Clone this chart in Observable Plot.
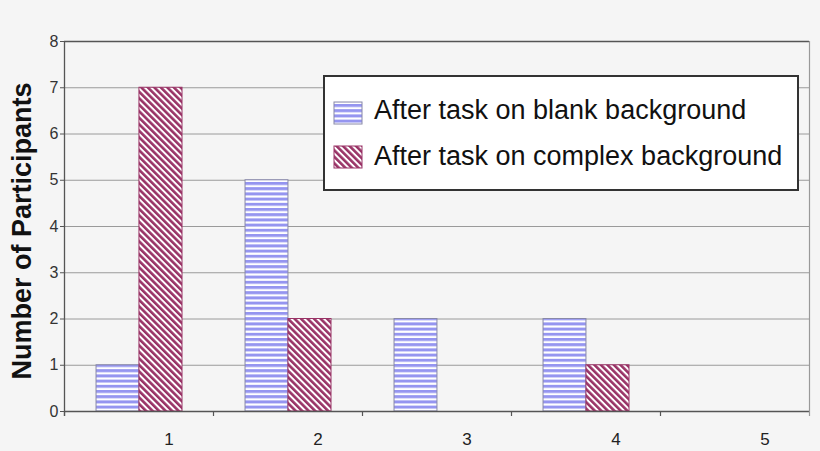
<!DOCTYPE html>
<html>
<head>
<meta charset="utf-8">
<script src="https://cdn.jsdelivr.net/npm/d3@7"></script>
<script src="https://cdn.jsdelivr.net/npm/@observablehq/plot@0.6"></script>
<style>
  html, body { margin: 0; padding: 0; background: #f5f5f5; }
  #wrap { position: relative; width: 820px; height: 451px; overflow: hidden; background: #f5f5f5; }
  #chart { position: absolute; left: 0; top: 0; }
  #legend { position: absolute; left: 0; top: 0; }
</style>
</head>
<body>
<div id="wrap">
  <svg width="0" height="0" style="position:absolute">
    <defs>
      <pattern id="pBlank" patternUnits="userSpaceOnUse" width="10" height="5.2">
        <rect width="10" height="5.2" fill="#ffffff"></rect>
        <rect width="10" height="3" fill="#9595f0"></rect>
      </pattern>
      <pattern id="pComplex" patternUnits="userSpaceOnUse" width="4.6" height="10" patternTransform="rotate(-45)">
        <rect width="4.6" height="10" fill="#ffffff"></rect>
        <rect width="2.6" height="10" fill="#993366"></rect>
      </pattern>
    </defs>
  </svg>
  <div id="chart"></div>
  <div id="legend"></div>
</div>
<script>
// ---- data ----
const categories = ["1", "2", "3", "4", "5"];
const blankValues = [1, 5, 2, 2, 0];
const complexValues = [7, 2, 0, 1, 0];
const yTicks = [0, 1, 2, 3, 4, 5, 6, 7, 8];
const seriesNames = ["After task on blank background", "After task on complex background"];
const yLabel = "Number of Participants";

const blankRows = categories.map((c, i) => ({cat: c, value: blankValues[i]})).filter(d => d.value > 0);
const complexRows = categories.map((c, i) => ({cat: c, value: complexValues[i]})).filter(d => d.value > 0);

// ---- layout ----
const W = 820, H = 451;
const mL = 64, mR = 11, mT = 41, mB = 40;
const bw = (W - mL - mR) / categories.length;
const plotH = H - mT - mB;

const chart = Plot.plot({
  width: W,
  height: H,
  marginLeft: mL,
  marginRight: mR,
  marginTop: mT,
  marginBottom: mB,
  style: {background: "#f5f5f5", fontFamily: "'Liberation Sans', Arial, sans-serif"},
  x: {domain: categories, padding: 0},
  y: {domain: [0, 8]},
  marks: [
    Plot.ruleY(yTicks.filter(v => v > 0 && v < 8), {stroke: "#9a9a9a", strokeWidth: 1, strokeOpacity: 1}),
    Plot.barY(blankRows, {x: "cat", y: "value", fill: "url(#pBlank)", stroke: "#8888a8", strokeWidth: 1,
      insetLeft: 0.215 * bw, insetRight: 0.497 * bw}),
    Plot.barY(complexRows, {x: "cat", y: "value", fill: "url(#pComplex)", stroke: "#993366", strokeWidth: 1,
      insetLeft: 0.503 * bw, insetRight: 0.208 * bw}),
    Plot.ruleY([0], {stroke: "#555", strokeWidth: 1.3}),
    Plot.ruleY([8], {stroke: "#555", strokeWidth: 1.3}),
    Plot.tickX(categories, {x: d => d, dx: -bw / 2, insetTop: plotH, insetBottom: -5, stroke: "#555", strokeWidth: 1.2}),
    Plot.tickX([categories[categories.length - 1]], {x: d => d, dx: bw / 2, insetBottom: -5, stroke: "#999", strokeWidth: 1.2}),
    Plot.tickX([categories[0]], {x: d => d, dx: -bw / 2, insetBottom: -5, stroke: "#555", strokeWidth: 1.3}),
    Plot.axisY({ticks: yTicks, tickSize: 4, tickPadding: 2, fontSize: 16, stroke: "#555", fill: "#333", label: null}),
    Plot.axisX({tickSize: 0, tickPadding: 21, dx: 30, fontSize: 17, fill: "#222", label: null})
  ]
});
document.getElementById("chart").appendChild(chart);

// ---- y title and legend overlay ----
const ov = d3.select("#legend").append("svg")
  .attr("width", 820).attr("height", 451)
  .style("font-family", "'Liberation Sans', Arial, sans-serif");

ov.append("text")
  .attr("transform", "translate(31,231) rotate(-90)")
  .attr("text-anchor", "middle")
  .attr("font-size", 27)
  .attr("font-weight", "bold")
  .attr("fill", "#111")
  .text(yLabel);

const lg = ov.append("g");
lg.append("rect").attr("x", 324).attr("y", 76).attr("width", 474).attr("height", 114)
  .attr("fill", "#ffffff").attr("stroke", "#333").attr("stroke-width", 2);
const fills = ["url(#pBlank)", "url(#pComplex)"];
const strokes = ["#8888a8", "#993366"];
seriesNames.forEach((name, i) => {
  const y0 = 102 + i * 44;
  lg.append("rect").attr("x", 334).attr("y", y0).attr("width", 28).attr("height", 22)
    .attr("fill", fills[i]).attr("stroke", strokes[i]).attr("stroke-width", 1);
  lg.append("text").attr("x", 374).attr("y", 119 + i * 46)
    .attr("font-size", 27).attr("fill", "#111").text(name);
});
</script>
</body>
</html>
